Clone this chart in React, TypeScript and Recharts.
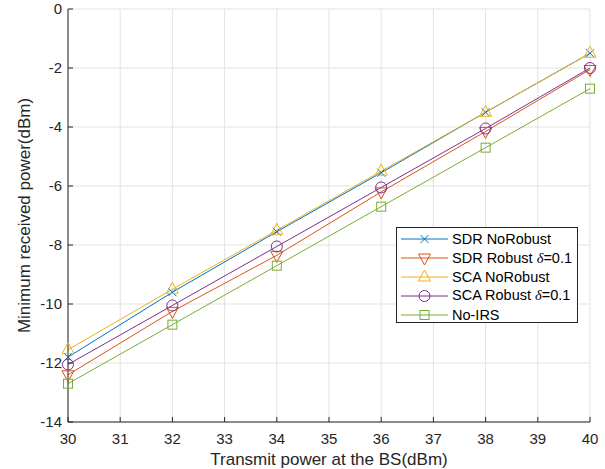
import { CartesianGrid, Legend, Line, LineChart, XAxis, YAxis } from "recharts"

// transmit power at the BS (dBm)
const power = [30, 32, 34, 36, 38, 40]

// minimum received power (dBm)
const sdrNoRobust = [-11.8, -9.6, -7.55, -5.55, -3.5, -1.5]
const sdrRobust = [-12.4, -10.25, -8.35, -6.2, -4.15, -2.05]
const scaNoRobust = [-11.55, -9.5, -7.5, -5.5, -3.5, -1.5]
const scaRobust = [-12.05, -10.05, -8.05, -6.05, -4.05, -2.0]
const noIrs = [-12.7, -10.7, -8.7, -6.7, -4.7, -2.7]

const xTicks = [30, 31, 32, 33, 34, 35, 36, 37, 38, 39, 40]
const yTicks = [-14, -12, -10, -8, -6, -4, -2, 0]

type Shape = "cross" | "down" | "up" | "circle" | "square"

const series: { key: string; label: string; delta: boolean; color: string; shape: Shape }[] = [
  { key: "sdrNoRobust", label: "SDR NoRobust", delta: false, color: "#0072BD", shape: "cross" },
  { key: "sdrRobust", label: "SDR Robust ", delta: true, color: "#D95319", shape: "down" },
  { key: "scaNoRobust", label: "SCA NoRobust", delta: false, color: "#EDB120", shape: "up" },
  { key: "scaRobust", label: "SCA Robust ", delta: true, color: "#7E2F8E", shape: "circle" },
  { key: "noIrs", label: "No-IRS", delta: false, color: "#77AC30", shape: "square" },
]

const data = power.map((p, i) => ({
  power: p,
  sdrNoRobust: sdrNoRobust[i],
  sdrRobust: sdrRobust[i],
  scaNoRobust: scaNoRobust[i],
  scaRobust: scaRobust[i],
  noIrs: noIrs[i],
}))

const ink = "#262626"

function Marker({ shape, cx, cy, color }: { shape: Shape; cx: number; cy: number; color: string }) {
  const common = { fill: "none", stroke: color, strokeWidth: 1 }
  if (shape === "cross") {
    return (
      <g {...common}>
        <line x1={cx - 4} y1={cy - 4} x2={cx + 4} y2={cy + 4} />
        <line x1={cx - 4} y1={cy + 4} x2={cx + 4} y2={cy - 4} />
      </g>
    )
  }
  if (shape === "up") {
    return <polygon {...common} points={`${cx},${cy - 7} ${cx - 6},${cy + 4} ${cx + 6},${cy + 4}`} />
  }
  if (shape === "down") {
    return <polygon {...common} points={`${cx},${cy + 7} ${cx - 6},${cy - 4} ${cx + 6},${cy - 4}`} />
  }
  if (shape === "circle") {
    return <circle {...common} cx={cx} cy={cy} r={5.5} />
  }
  return <rect {...common} x={cx - 4.5} y={cy - 4.5} width={9} height={9} />
}

function LegendBox() {
  return (
    <div
      style={{
        boxSizing: "border-box",
        width: 182,
        height: 96,
        border: `1px solid ${ink}`,
        background: "#fff",
        paddingTop: 2,
        fontSize: 14.5,
        color: "#000",
      }}
    >
      {series.map((s) => (
        <div key={s.key} style={{ display: "flex", alignItems: "center", height: 18.8 }}>
          <svg width={55} height={18} style={{ flex: "none" }}>
            <line x1={4} y1={9} x2={51} y2={9} stroke={s.color} strokeWidth={1} />
            <Marker shape={s.shape} cx={27.5} cy={9} color={s.color} />
          </svg>
          <span style={{ whiteSpace: "pre" }}>
            {s.label}
            {s.delta && (
              <>
                <span style={{ fontFamily: "'Liberation Serif', serif", fontStyle: "italic" }}>δ</span>=0.1
              </>
            )}
          </span>
        </div>
      ))}
    </div>
  )
}

export default function App() {
  return (
    <div style={{ position: "absolute", left: 0, top: 0, fontFamily: "'Liberation Sans', Arial, sans-serif" }}>
      <LineChart width={605} height={469} data={data} margin={{ top: 9, right: 15, left: 0, bottom: 0 }}>
        <CartesianGrid stroke="#e3e3e3" verticalPoints={undefined} />
        <XAxis
          dataKey="power"
          type="number"
          domain={[30, 40]}
          ticks={xTicks}
          height={47}
          tickSize={-5}
          tickMargin={16}
          tick={{ fill: ink, fontSize: 15 }}
          axisLine={{ stroke: ink }}
          tickLine={{ stroke: ink }}
          label={{ value: "Transmit power at the BS(dBm)", position: "insideBottom", offset: 4, fill: ink, fontSize: 17 }}
        />
        <YAxis
          type="number"
          domain={[-14, 0]}
          ticks={yTicks}
          width={68}
          tickSize={-5}
          tickMargin={11}
          tick={{ fill: ink, fontSize: 15 }}
          axisLine={{ stroke: ink }}
          tickLine={{ stroke: ink }}
          label={{
            value: "Minimum received power(dBm)",
            angle: -90,
            position: "insideLeft",
            offset: 24,
            fill: ink,
            fontSize: 17,
            style: { textAnchor: "middle" },
          }}
        />
        <XAxis
          xAxisId="top"
          orientation="top"
          type="number"
          domain={[30, 40]}
          ticks={xTicks}
          height={0}
          tickSize={-5}
          tickFormatter={() => ""}
          axisLine={{ stroke: ink }}
          tickLine={{ stroke: ink }}
          allowDataOverflow
        />
        <YAxis
          yAxisId="right"
          orientation="right"
          type="number"
          domain={[-14, 0]}
          ticks={yTicks}
          width={0}
          tickSize={-5}
          tickFormatter={() => ""}
          axisLine={{ stroke: ink }}
          tickLine={{ stroke: ink }}
          allowDataOverflow
        />
        <Legend
          layout="vertical"
          align="center"
          verticalAlign="middle"
          content={() => <LegendBox />}
          wrapperStyle={{ left: 396, top: 227, width: 182 }}
        />
        {series.map((s) => (
          <Line
            key={s.key}
            dataKey={s.key}
            stroke={s.color}
            strokeWidth={1}
            isAnimationActive={false}
            activeDot={false}
            dot={(p: any) => <Marker key={`${s.key}-${p.index}`} shape={s.shape} cx={p.cx} cy={p.cy} color={s.color} />}
          />
        ))}
      </LineChart>
    </div>
  )
}
